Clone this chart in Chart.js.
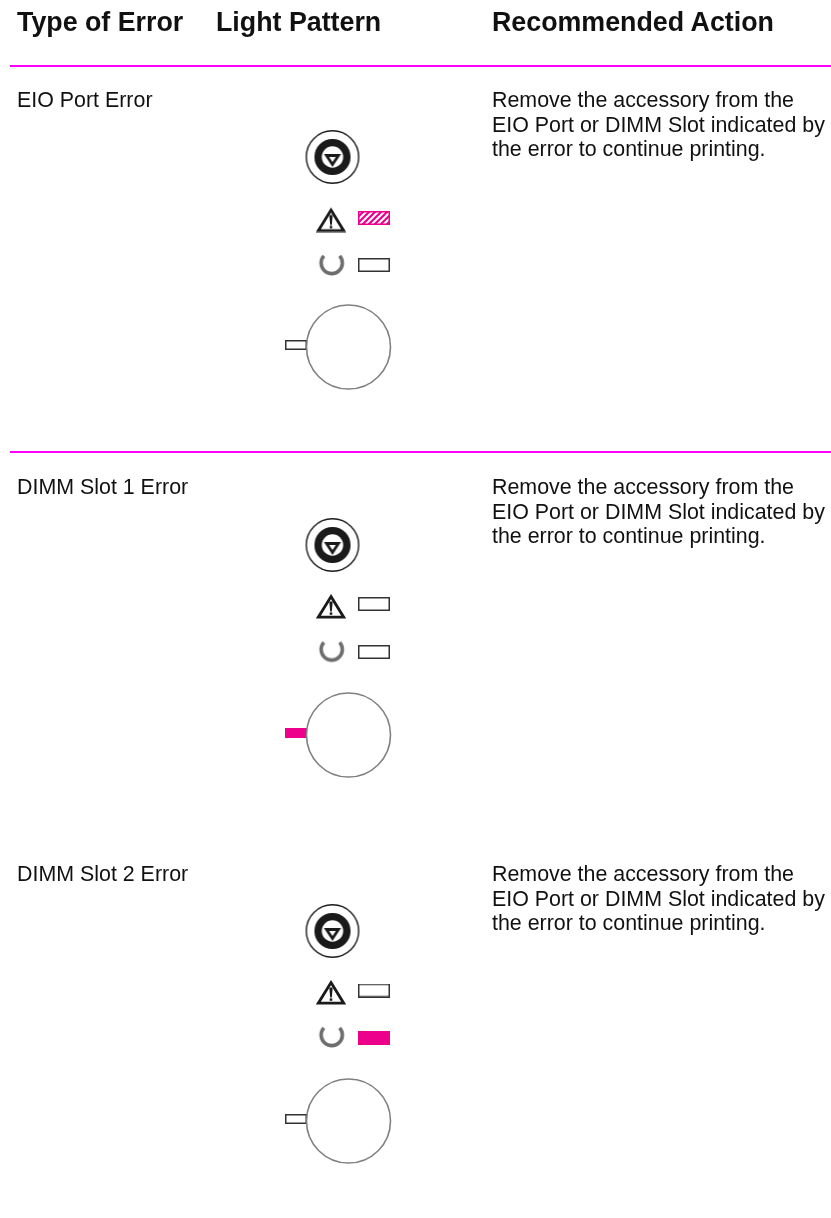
<!DOCTYPE html>
<html lang="en">
  <head>
    <meta charset="UTF-8" />
    <script src="https://cdn.jsdelivr.net/npm/chart.js"></script>
    <title>Type of Error / Light Pattern</title>
    <style>
      body { margin: 0; background: #fff; }
      #page { position: relative; width: 831px; height: 1218px; overflow: hidden; font-family: "Liberation Sans", Arial, sans-serif; color: #111; }
      canvas { position: absolute; left: 0; top: 0; }
      .txt { position: absolute; white-space: pre; transform-origin: 0 0; }
      .head { font-weight: bold; font-size: 26.8px; line-height: 28px; top: 8px; }
      .body { font-size: 21.4px; line-height: 24.5px; }
    </style>
  </head>
  <body>
    <div id="page">
      <canvas id="grafico" width="831" height="1218"></canvas>
    </div>
    <script>
      // table content
      var headers = ["Type of Error", "Light Pattern", "Recommended Action"];
      var errorTypes = ["EIO Port Error", "DIMM Slot 1 Error", "DIMM Slot 2 Error"];
      var actions = [
        "Remove the accessory from the\nEIO Port or DIMM Slot indicated by\nthe error to continue printing.",
        "Remove the accessory from the\nEIO Port or DIMM Slot indicated by\nthe error to continue printing.",
        "Remove the accessory from the\nEIO Port or DIMM Slot indicated by\nthe error to continue printing.",
      ];

      // light state per row
      var attentionLight = ["blink", "off", "off"];
      var readyLight = ["off", "off", "on"];
      var goLight = ["off", "on", "off"];

      // layout, in page pixels
      var headerX = [17, 216, 492];
      var textTop = [88, 475, 862];
      var ruleY = [66, 452];
      var buttonY = [157, 545, 931];
      var attentionIconY = [219.5, 606, 992];
      var attentionLightY = [218, 604, 990.5];
      var readyIconY = [263, 649.5, 1035];
      var readyLightY = [265, 652, 1038];
      var dialY = [347, 735, 1121];
      var goLightY = [345, 733, 1119];

      var pink = "#ec008c";

      function icono(w, h, dibujar) {
        var c = document.createElement("canvas");
        c.width = w;
        c.height = h;
        dibujar(c.getContext("2d"));
        return c;
      }

      function rectLight(w, h, state) {
        return icono(w, h, function (ctx) {
          if (state == "on") {
            ctx.fillStyle = pink;
            ctx.fillRect(0, 0, w, h);
            return;
          }
          ctx.fillStyle = "#fff";
          ctx.fillRect(0, 0, w, h);
          if (state == "blink") {
            ctx.save();
            ctx.beginPath();
            ctx.rect(0, 0, w, h);
            ctx.clip();
            ctx.strokeStyle = pink;
            ctx.lineWidth = 2.2;
            for (var i = -h; i < w + h; i += 6) {
              ctx.beginPath();
              ctx.moveTo(i, h);
              ctx.lineTo(i + h, 0);
              ctx.stroke();
            }
            ctx.restore();
          }
          ctx.strokeStyle = state == "blink" ? pink : "#333";
          ctx.lineWidth = 1.5;
          ctx.strokeRect(0.75, 0.75, w - 1.5, h - 1.5);
        });
      }

      var botao = icono(56, 56, function (ctx) {
        ctx.strokeStyle = "#1a1a1a";
        ctx.lineWidth = 1.4;
        ctx.beginPath();
        ctx.arc(28, 28, 26.2, 0, Math.PI * 2);
        ctx.stroke();
        ctx.lineWidth = 7.4;
        ctx.beginPath();
        ctx.arc(28, 28, 14.4, 0, Math.PI * 2);
        ctx.stroke();
        ctx.lineWidth = 2.8;
        ctx.lineJoin = "miter";
        ctx.beginPath();
        ctx.moveTo(22, 26.5);
        ctx.lineTo(34, 26.5);
        ctx.lineTo(28, 35.5);
        ctx.closePath();
        ctx.stroke();
      });

      var atencao = icono(32, 26, function (ctx) {
        ctx.strokeStyle = "#1a1a1a";
        ctx.lineWidth = 2.8;
        ctx.beginPath();
        ctx.moveTo(16, 3.6);
        ctx.lineTo(28.7, 24.2);
        ctx.lineTo(3.3, 24.2);
        ctx.closePath();
        ctx.stroke();
        ctx.fillStyle = "#1a1a1a";
        ctx.beginPath();
        ctx.moveTo(14.3, 8.5);
        ctx.lineTo(17.7, 8.5);
        ctx.lineTo(16.8, 18.5);
        ctx.lineTo(15.2, 18.5);
        ctx.closePath();
        ctx.fill();
        ctx.fillRect(14.7, 19.4, 2.6, 2.4);
      });

      var pronto = icono(28, 28, function (ctx) {
        ctx.strokeStyle = "#6e6e6e";
        ctx.lineWidth = 3.6;
        ctx.beginPath();
        ctx.arc(14, 14, 10.6, (-42 * Math.PI) / 180, (222 * Math.PI) / 180);
        ctx.stroke();
      });

      var luzes = {};
      ["off", "on", "blink"].forEach(function (s) {
        luzes[s] = rectLight(32, 14, s);
      });
      var tabs = { off: rectLight(22, 10, "off"), on: rectLight(22, 10, "on") };

      // builds one {x, y} per row, all rows share the same column
      function coluna(x, ys) {
        return ys.map(function (y) {
          return { x: x, y: y };
        });
      }

      function pontos(label, data, estilo, ordem) {
        return {
          label: label,
          data: data,
          pointStyle: estilo,
          pointRadius: 10,
          showLine: false,
          order: ordem,
        };
      }

      var grafico = new Chart(document.getElementById("grafico"), {
        type: "scatter",
        data: {
          datasets: [
            {
              type: "line",
              label: "rules",
              data: [
                { x: 10, y: ruleY[0] },
                { x: 831, y: ruleY[0] },
                { x: 10, y: null },
                { x: 10, y: ruleY[1] },
                { x: 831, y: ruleY[1] },
              ],
              borderColor: "#ff00ff",
              borderWidth: 2,
              pointRadius: 0,
              spanGaps: false,
              order: 5,
            },
            pontos("button", coluna(332.5, buttonY), botao, 4),
            pontos("attention icon", coluna(331, attentionIconY), atencao, 4),
            pontos("ready icon", coluna(331.7, readyIconY), pronto, 4),
            pontos(
              "attention light",
              coluna(374, attentionLightY),
              attentionLight.map(function (s) { return luzes[s]; }),
              4
            ),
            pontos(
              "ready light",
              coluna(374, readyLightY),
              readyLight.map(function (s) { return luzes[s]; }),
              4
            ),
            pontos(
              "go light",
              coluna(296, goLightY),
              goLight.map(function (s) { return tabs[s]; }),
              2
            ),
            {
              label: "dial",
              data: coluna(348.5, dialY),
              pointStyle: "circle",
              pointRadius: 42,
              pointBackgroundColor: "rgba(255,255,255,0)",
              pointBorderColor: "#808080",
              pointBorderWidth: 1.6,
              showLine: false,
              order: 1,
            },
          ],
        },
        options: {
          responsive: false,
          animation: false,
          events: [],
          layout: { padding: 0, autoPadding: false },
          plugins: { legend: { display: false }, tooltip: { enabled: false } },
          scales: {
            x: { type: "linear", min: 0, max: 831, display: false },
            y: { type: "linear", min: 0, max: 1218, reverse: true, display: false },
          },
        },
      });

      // text stays as real text on top of the canvas
      var page = document.getElementById("page");
      function texto(cls, x, y, s) {
        var d = document.createElement("div");
        d.className = "txt " + cls;
        d.style.left = x + "px";
        if (y != null) d.style.top = y + "px";
        d.textContent = s;
        page.appendChild(d);
      }
      headers.forEach(function (h, i) {
        texto("head", headerX[i], null, h);
      });
      errorTypes.forEach(function (e, i) {
        texto("body", headerX[0], textTop[i], e);
        texto("body", headerX[2], textTop[i], actions[i]);
      });
    </script>
  </body>
</html>
